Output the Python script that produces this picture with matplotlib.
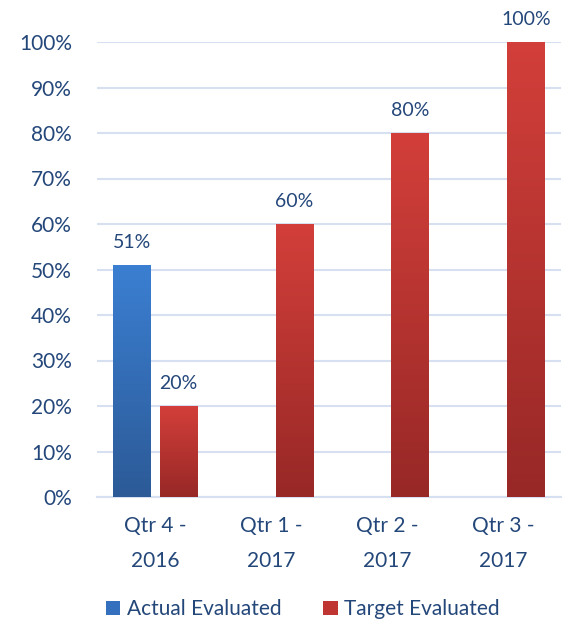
import numpy as np
import matplotlib.pyplot as plt
from matplotlib.patches import Patch
from matplotlib.colors import LinearSegmentedColormap

plt.rcParams['font.family'] = ['Lato', 'DejaVu Sans']

categories = ['Qtr 4 -\n2016', 'Qtr 1 -\n2017', 'Qtr 2 -\n2017', 'Qtr 3 -\n2017']
actual = [0.51, np.nan, np.nan, np.nan]
target = [0.20, 0.60, 0.80, 1.00]
yticks = [0, 0.1, 0.2, 0.3, 0.4, 0.5, 0.6, 0.7, 0.8, 0.9, 1.0]

text_col = '#24477A'
grid_col = '#D6E0F0'
blue_grad = ['#2C5A97', '#3B7FD2']
red_grad = ['#972826', '#D33F3A']

fig = plt.figure(figsize=(5.71, 6.25), dpi=100)
ax = fig.add_axes([0.17, 0.2048, 0.812, 0.728])

x = np.arange(len(categories))
w = 0.32
off = 0.2


def grad_bars(xs, vals, colors, label):
    bars = ax.bar(xs, vals, w, color=colors[1], label=label, zorder=3)
    grad = np.linspace(0, 1, 256).reshape(-1, 1)
    cmap = LinearSegmentedColormap.from_list(label, colors)
    for b, v in zip(bars, vals):
        if np.isnan(v):
            continue
        b.set_facecolor('none')
        b.set_edgecolor('none')
        im = ax.imshow(grad, cmap=cmap, aspect='auto', origin='lower',
                       extent=[b.get_x(), b.get_x() + b.get_width(), 0, v], zorder=3)
        im.set_clip_path(b)
        ax.text(b.get_x() + b.get_width() / 2, v + 0.03, f'{v:.0%}', ha='center', va='bottom',
                color=text_col, fontsize=14, clip_on=False)
    return bars


grad_bars(x - off, actual, blue_grad, 'Actual Evaluated')
grad_bars(x + off, target, red_grad, 'Target Evaluated')

ax.set_xlim(-0.5, 3.5)
ax.set_ylim(0, 1.0)
ax.set_yticks(yticks)
ax.set_yticklabels([f'{int(round(t * 100))}%' for t in yticks])
ax.set_xticks(x)
ax.set_xticklabels(categories, linespacing=1.9)
ax.tick_params(axis='both', length=0, colors=text_col, labelsize=15)
ax.tick_params(axis='y', pad=18)
ax.tick_params(axis='x', pad=14)
ax.yaxis.grid(True, color=grid_col, linewidth=1.5, zorder=0)
ax.set_axisbelow(True)
for s in ['top', 'right', 'left']:
    ax.spines[s].set_visible(False)
ax.spines['bottom'].set_color(grid_col)
ax.spines['bottom'].set_linewidth(1.5)

handles = [Patch(facecolor='#3470BE', label='Actual Evaluated'),
           Patch(facecolor='#BF3532', label='Target Evaluated')]
fig.legend(handles=handles, loc='center', bbox_to_anchor=(0.53, 0.025), ncol=2, frameon=False,
           fontsize=15, labelcolor=text_col, handlelength=0.7, handleheight=0.7,
           handletextpad=0.3, columnspacing=2.0)

fig.savefig('out.png', dpi=100)
